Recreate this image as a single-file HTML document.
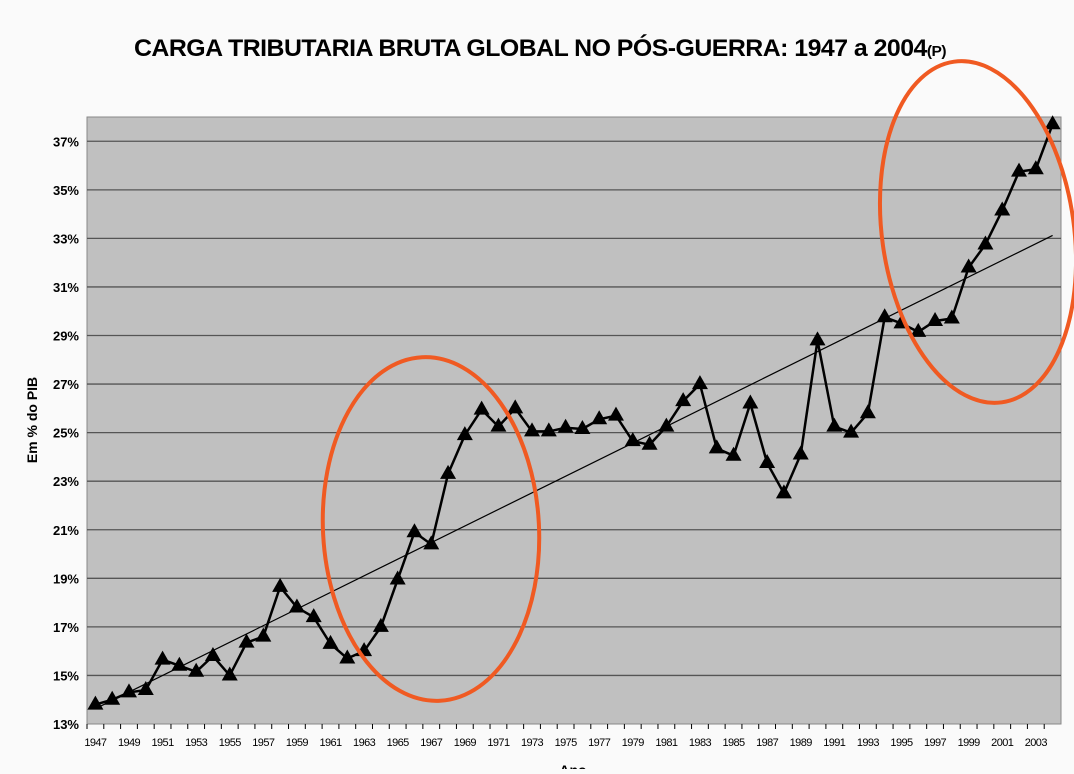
<!DOCTYPE html>
<html><head><meta charset="utf-8"><style>
body{margin:0;background:#fafafa;width:1074px;height:769px;overflow:hidden;font-family:"Liberation Sans",sans-serif}
</style></head><body>
<svg id="chart" width="1074" height="769" viewBox="0 0 1074 769">
<text x="540" y="56" text-anchor="middle" font-size="24" font-weight="bold" letter-spacing="-0.5" textLength="812" lengthAdjust="spacingAndGlyphs">CARGA TRIBUTARIA BRUTA GLOBAL NO PÓS-GUERRA: 1947 a 2004<tspan font-size="15">(P)</tspan></text>
<rect x="87" y="117" width="974" height="607" fill="#c0c0c0" stroke="#888"/>
<g id="grid"></g><g id="yticks"></g><g id="xticks"></g>
<line id="trend" stroke="#000" stroke-width="1.2"/>
<polyline id="series" fill="none" stroke="#000" stroke-width="2.5"/>
<g id="markers"></g>
<text transform="translate(37,420) rotate(-90)" text-anchor="middle" font-size="14" font-weight="bold">Em % do PIB</text>
<text x="573" y="775" text-anchor="middle" font-size="14" font-weight="bold">Ano</text>
<ellipse cx="431" cy="529" rx="108" ry="172" transform="rotate(-3 431 529)" fill="none" stroke="#f05a22" stroke-width="4"/>
<ellipse cx="978" cy="232" rx="96" ry="172" transform="rotate(-8 978 232)" fill="none" stroke="#f05a22" stroke-width="4"/>
</svg>
<script>
const years=[];for(let y=1947;y<=2004;y++)years.push(y);
const values=[13.8,14.0,14.3,14.4,15.65,15.4,15.15,15.8,15.0,16.35,16.6,18.65,17.8,17.4,16.3,15.7,16.0,17.0,18.95,20.9,20.4,23.3,24.9,25.95,25.25,26.0,25.05,25.05,25.2,25.15,25.55,25.7,24.65,24.5,25.25,26.3,27.0,24.35,24.05,26.2,23.75,22.5,24.1,28.8,25.25,25.0,25.8,29.75,29.5,29.15,29.6,29.7,31.8,32.75,34.15,35.75,35.85,37.7];
const yTicks=[13,15,17,19,21,23,25,27,29,31,33,35,37];
const NS="http://www.w3.org/2000/svg";
const L=87,R=1061,T=117,B=724,yMin=13,yMax=38;
const bw=(R-L)/years.length;
const xs=i=>L+bw*(i+0.5);
const ys=v=>B-(v-yMin)/(yMax-yMin)*(B-T);
function mk(t,a){const e=document.createElementNS(NS,t);for(const k in a)e.setAttribute(k,a[k]);return e;}
const g=document.getElementById('grid'),yt=document.getElementById('yticks'),xt=document.getElementById('xticks');
yTicks.forEach(v=>{
 if(v>yMin){const l=mk('line',{x1:L,x2:R,y1:ys(v),y2:ys(v),stroke:'#555','stroke-width':1.3});
 
 g.appendChild(l);}
 const t=mk('text',{x:L-8,y:ys(v)+5,'text-anchor':'end','font-size':13,'font-weight':'bold'});
 
 
 t.textContent=v+'%';yt.appendChild(t);
});
years.forEach((y,i)=>{
 const tk=mk('line',{x1:L+bw*i,x2:L+bw*i,y1:B,y2:B+5,stroke:'#000'});
 
 xt.appendChild(tk);
 if(i%2===0){const t=mk('text',{x:xs(i),y:B+22,'text-anchor':'middle','font-size':11,'letter-spacing':'-0.6'});
 
 
 t.textContent=y;xt.appendChild(t);}
});
document.getElementById('series').setAttribute('points',values.map((v,i)=>xs(i)+','+ys(v)).join(' '));
const m=document.getElementById('markers');
values.forEach((v,i)=>{const x=xs(i),y=ys(v);
 const p=mk('polygon',{points:`${x},${y-9} ${x-8},${y+5} ${x+8},${y+5}`,fill:'#000'});
 
 m.appendChild(p);});
const n=values.length;let sx=0,sy=0,sxy=0,sxx=0;
values.forEach((v,i)=>{sx+=i;sy+=v;sxy+=i*v;sxx+=i*i;});
const b=(n*sxy-sx*sy)/(n*sxx-sx*sx),a=(sy-b*sx)/n;
const tr=document.getElementById('trend');
tr.setAttribute('x1',xs(0));tr.setAttribute('y1',ys(a));
tr.setAttribute('x2',xs(n-1));tr.setAttribute('y2',ys(a+b*(n-1)));
</script>
</body></html>
